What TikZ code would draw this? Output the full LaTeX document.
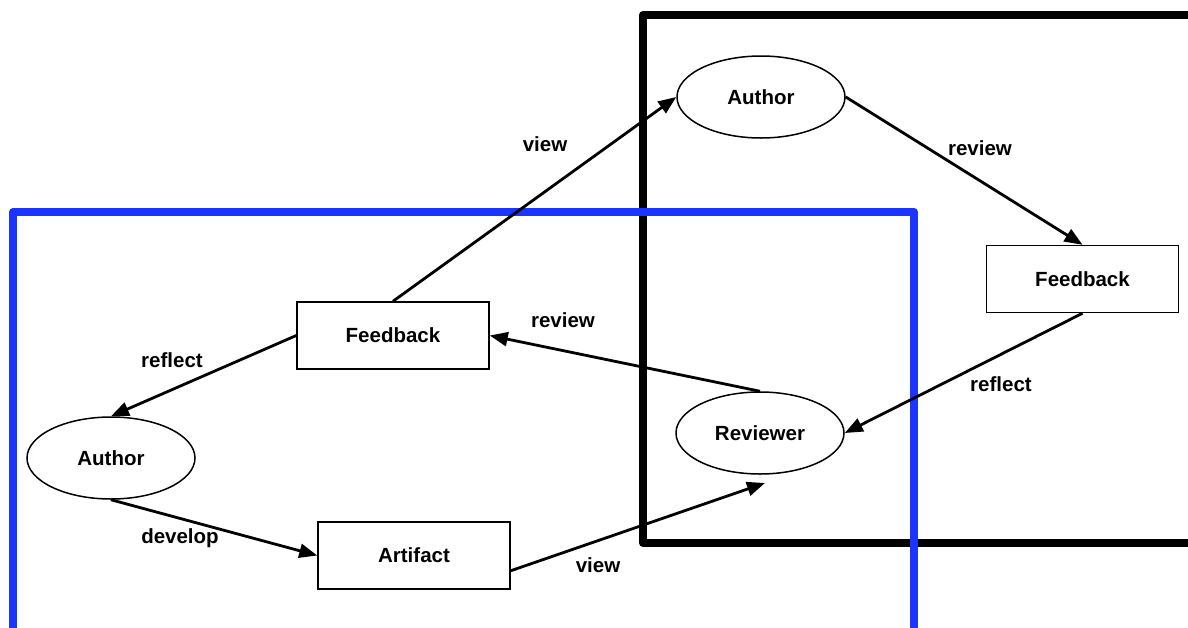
\documentclass[tikz,border=0pt]{standalone}
\usepackage{fontspec}
\setmainfont{Liberation Sans}
\usetikzlibrary{arrows.meta,shapes.geometric}
\definecolor{boxblue}{RGB}{28,52,255}
\tikzset{
  actor/.style={ellipse,draw,line width=0.75pt,fill=white,minimum width=84pt,minimum height=41pt,inner sep=0pt,font=\bfseries\fontsize{10.25pt}{12pt}\selectfont},
  thing/.style={rectangle,draw,line width=0.75pt,fill=white,minimum width=96pt,minimum height=33.5pt,inner sep=0pt,font=\bfseries\fontsize{10.25pt}{12pt}\selectfont},
  lbl/.style={inner sep=0pt,font=\bfseries\fontsize{10.25pt}{12pt}\selectfont},
  flow/.style={line width=1.4pt,-{Triangle[length=9pt,width=7pt]}},
  frame/.style={line width=4pt,line join=round}
}
\begin{document}
\begin{tikzpicture}[x=0.5pt,y=-0.5pt]
\useasboundingbox (0,0) rectangle (1188,627);
% frames
\draw[frame,black] (1200,15) -- (643,15) -- (643,543) -- (1200,543);
\draw[frame,boxblue] (13,640) -- (13,212) -- (914,212) -- (914,640);
% nodes
\node[actor] (auth2) at (761,97) {Author};
\node[thing] (fb2) at (1082.5,279) {Feedback};
\node[thing] (fb1) at (393,335.5) {Feedback};
\node[actor] (rev) at (760,433) {Reviewer};
\node[actor] (auth1) at (111,458) {Author};
\node[thing] (art) at (414,555.5) {Artifact};
\coordinate (vend) at (765,483);
\coordinate (vstart) at (510,571);
% edges
\draw[flow] (fb1.north) -- (auth2.west);
\draw[flow] (auth2.east) -- (fb2.north);
\draw[flow] (fb2.south) -- (rev.east);
\draw[flow] (rev.north) -- (fb1.east);
\draw[flow] (fb1.west) -- (auth1.north);
\draw[flow] (auth1.south) -- (art.west);
\draw[flow] (vstart) -- (vend);
% labels
\node[lbl] (l1) at (545,144) {view};
\node[lbl] (l2) at (980,148) {review};
\node[lbl] (l3) at (1001,384) {reflect};
\node[lbl] (l4) at (563,320) {review};
\node[lbl] (l5) at (172,360) {reflect};
\node[lbl] (l6) at (180,538) {develop};
\node[lbl] (l7) at (598,565) {view};
\end{tikzpicture}
\end{document}
